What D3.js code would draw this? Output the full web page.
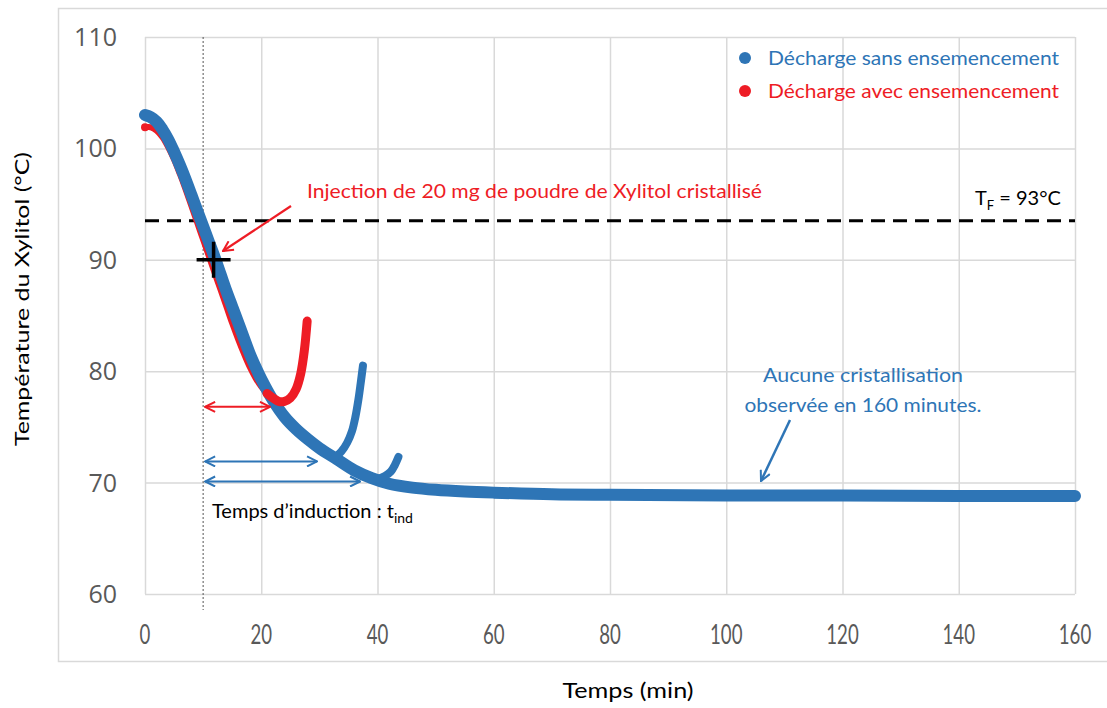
<!DOCTYPE html>
<html><head><meta charset="utf-8">
<script src="https://cdn.jsdelivr.net/npm/d3@7"></script>
<style>body{margin:0;background:#fff}svg{display:block}</style>
</head><body><svg id="c" width="1107" height="708"></svg>
<script>
// ---- data ----
const xTicks = [0,20,40,60,80,100,120,140,160];
const yTicks = [60,70,80,90,100,110];
const seriesNames = ["Décharge sans ensemencement","Décharge avec ensemencement"];
// blue: decharge sans ensemencement (main cooling curve)
const blueTime = [0,1,2,3,4,5,6,7,8,9,10,11,12,13,14,15,16,17,18,19,20,22,24,26,28,30,33,36,39,42,46,50,55,60,70,80,100,120,140,160];
const blueTemp = [103.0,102.8,102.4,101.7,100.8,99.7,98.5,97.2,95.8,94.4,93.0,91.6,90.2,88.7,87.2,85.8,84.4,83.0,81.6,80.4,79.3,77.4,75.9,74.8,73.9,73.1,72.1,71.1,70.4,69.9,69.55,69.35,69.2,69.1,68.95,68.9,68.85,68.85,68.8,68.8];
// blue: crystallisation branches
const blueBranch1Time = [32.5,33.8,34.8,35.6,36.2,36.7,37.1,37.5];
const blueBranch1Temp = [72.2,72.8,73.6,74.6,75.9,77.4,78.9,80.5];
const blueBranch2Time = [40.0,41.3,42.3,43.0,43.6];
const blueBranch2Temp = [70.3,70.6,71.0,71.6,72.3];
// red: decharge avec ensemencement
const redTime = [0,1,2,3,4,5,6,7,8,9,10,11,12,13,14,15,16,17,18,19,20,21,22,23,24,25,26,26.8,27.4,27.9];
const redTemp = [101.9,101.9,101.6,101.0,100.1,99.0,97.7,96.3,94.8,93.3,91.8,90.3,88.8,87.3,85.8,84.3,82.9,81.6,80.4,79.4,78.6,78.0,77.6,77.3,77.3,77.6,78.4,79.8,81.8,84.5];
const fusionTemp = 93.5;
const injectionTime = 10;
const crossPoint = [11.8, 90];
const inductionRed = [10, 21.5, 76.8];
const inductionBlue1 = [10, 29.6, 71.9];
const inductionBlue2 = [10, 37.0, 70.1];

// ---- layout ----
const svg = d3.select("#c");
const BLUE = "#2E75B6", RED = "#EE1C25", GRID = "#D9D9D9", TICK = "#595959";
const x = d3.scaleLinear().domain([0,160]).range([145,1075]);
const y = d3.scaleLinear().domain([60,110]).range([594,37]);

function fit(sel, w){ sel.each(function(){ const L=this.getComputedTextLength(); if(Math.abs(L-w)>1){ this.setAttribute("textLength", w); this.setAttribute("lengthAdjust","spacingAndGlyphs"); } }); return sel; }

// outer chart border
svg.append("rect").attr("x",58.5).attr("y",8.5).attr("width",1120).attr("height",653).attr("fill","none").attr("stroke",GRID).attr("stroke-width",1.5);

// grid via axes
const gx = svg.append("g").attr("transform",`translate(0,${y(60)})`)
  .call(d3.axisBottom(x).tickValues(xTicks).tickSize(-(y(60)-y(110))).tickFormat(""));
const gy = svg.append("g").attr("transform",`translate(${x(0)},0)`)
  .call(d3.axisLeft(y).tickValues(yTicks).tickSize(-(x(160)-x(0))).tickFormat(""));
[gx,gy].forEach(g=>{ g.select(".domain").remove(); g.selectAll("line").attr("stroke",GRID).attr("stroke-width",1.5); });

// tick labels
svg.append("g").selectAll("text").data(yTicks).join("text")
  .attr("x",117).attr("y",d=>y(d)).attr("dy","0.36em").attr("text-anchor","end")
  .attr("font-family","Open Sans").attr("font-size",25).attr("fill",TICK).text(d=>d);
svg.append("g").selectAll("text").data(xTicks).join("text")
  .attr("x",d=>x(d)).attr("y",644).attr("text-anchor","middle")
  .attr("font-family","Lato").attr("font-size",27).attr("fill",TICK).text(d=>d)
  .each(function(d){ fit(d3.select(this), String(d).length*10.8); });

// axis titles
fit(svg.append("text").attr("transform","translate(29,299) rotate(-90)").attr("text-anchor","middle")
  .attr("font-family","Lato").attr("font-size",20).attr("fill","#000").text("Température du Xylitol (°C)"),294);
fit(svg.append("text").attr("x",628).attr("y",698).attr("text-anchor","middle")
  .attr("font-family","Lato").attr("font-size",21).attr("fill","#000").text("Temps (min)"),131);

// reference lines
svg.append("line").attr("x1",x(0)).attr("x2",x(160)).attr("y1",y(fusionTemp)).attr("y2",y(fusionTemp))
  .attr("stroke","#000").attr("stroke-width",3).attr("stroke-dasharray","14,8");
svg.append("line").attr("x1",x(injectionTime)).attr("x2",x(injectionTime)).attr("y1",y(110)).attr("y2",610)
  .attr("stroke","#555").attr("stroke-width",1).attr("stroke-dasharray","2,2");

const line = d3.line().x(d=>x(d[0])).y(d=>y(d[1])).curve(d3.curveCatmullRom);
const zip = (a,b)=>a.map((v,i)=>[v,b[i]]);
const redPts = zip(redTime, redTemp);
const bluePts = zip(blueTime, blueTemp);

// red (under blue)
svg.append("path").attr("d",line(redPts)).attr("fill","none").attr("stroke",RED).attr("stroke-width",6).attr("stroke-linecap","round");
// blue main
svg.append("path").attr("d",line(bluePts)).attr("fill","none").attr("stroke",BLUE).attr("stroke-width",12).attr("stroke-linecap","round").attr("stroke-linejoin","round");
svg.append("path").attr("d",line(zip(blueBranch1Time,blueBranch1Temp))).attr("fill","none").attr("stroke",BLUE).attr("stroke-width",8).attr("stroke-linecap","round");
svg.append("path").attr("d",line(zip(blueBranch2Time,blueBranch2Temp))).attr("fill","none").attr("stroke",BLUE).attr("stroke-width",8).attr("stroke-linecap","round");
// red hook on top
svg.append("path").attr("d",line(redPts.filter(d=>d[0]>=21))).attr("fill","none").attr("stroke",RED).attr("stroke-width",9).attr("stroke-linecap","round").attr("stroke-linejoin","round");
svg.append("circle").attr("cx",x(0)).attr("cy",y(redTemp[0])).attr("r",4).attr("fill",RED);

// cross marker
const cx = x(crossPoint[0]), cy = y(crossPoint[1]);
svg.append("path").attr("d",`M${cx-17},${cy}H${cx+17}M${cx},${cy-18}V${cy+18}`).attr("stroke","#000").attr("stroke-width",3.5);

// arrow markers
const defs = svg.append("defs");
function mk(id,color){
  defs.append("marker").attr("id",id).attr("viewBox","0 0 12 12").attr("refX",11).attr("refY",6)
   .attr("markerWidth",12).attr("markerHeight",12).attr("markerUnits","userSpaceOnUse").attr("orient","auto-start-reverse")
   .append("path").attr("d","M1,1L11,6L1,11").attr("fill","none").attr("stroke",color).attr("stroke-width",2);
}
mk("ar",RED); mk("ab",BLUE);
function dbl(a,color,id){
  svg.append("line").attr("x1",x(a[0])+2).attr("x2",x(a[1])).attr("y1",y(a[2])).attr("y2",y(a[2]))
   .attr("stroke",color).attr("stroke-width",2).attr("marker-start",`url(#${id})`).attr("marker-end",`url(#${id})`);
}
dbl(inductionRed,RED,"ar"); dbl(inductionBlue1,BLUE,"ab"); dbl(inductionBlue2,BLUE,"ab");

// annotation arrows
svg.append("line").attr("x1",291).attr("y1",206).attr("x2",223).attr("y2",251).attr("stroke",RED).attr("stroke-width",2.2).attr("marker-end","url(#ar)");
svg.append("line").attr("x1",790).attr("y1",420).attr("x2",761).attr("y2",481).attr("stroke",BLUE).attr("stroke-width",2.5).attr("marker-end","url(#ab)");

// texts
fit(svg.append("text").attr("x",307).attr("y",198).attr("font-family","Lato").attr("font-size",20).attr("fill",RED)
  .text("Injection de 20 mg de poudre de Xylitol cristallisé"),455);
const tf = svg.append("text").attr("x",975).attr("y",205).attr("font-family","Lato").attr("font-size",20).attr("fill","#000");
tf.append("tspan").text("T");
tf.append("tspan").attr("font-size",13).attr("dy",5).text("F");
tf.append("tspan").attr("dy",-5).text(" = 93°C");
fit(svg.append("text").attr("x",863).attr("y",382).attr("text-anchor","middle").attr("font-family","Lato").attr("font-size",20).attr("fill",BLUE)
  .text("Aucune cristallisation"),200);
fit(svg.append("text").attr("x",863).attr("y",412).attr("text-anchor","middle").attr("font-family","Lato").attr("font-size",20).attr("fill",BLUE)
  .text("observée en 160 minutes."),237);
const ti = svg.append("text").attr("x",212).attr("y",518).attr("font-family","Lato").attr("font-size",20).attr("fill","#000");
ti.append("tspan").text("Temps d’induction : t");
ti.append("tspan").attr("font-size",14).attr("dy",5).text("ind");

// legend
const leg = svg.append("g");
[[BLUE,58],[RED,91]].forEach(([c,yy],i)=>{
  leg.append("circle").attr("cx",745).attr("cy",yy).attr("r",6).attr("fill",c);
  fit(leg.append("text").attr("x",768).attr("y",yy+7).attr("font-family","Lato").attr("font-size",20).attr("fill",c).text(seriesNames[i]),291);
});
</script></body></html>
